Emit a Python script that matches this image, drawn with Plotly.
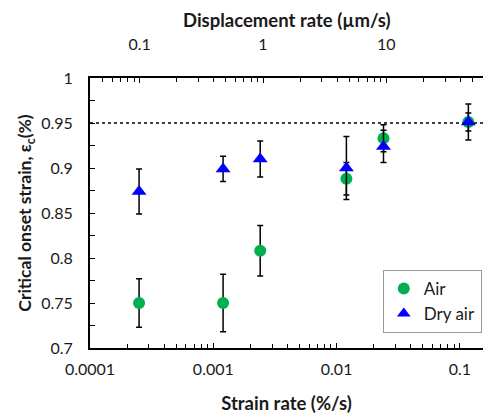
import numpy as np
import plotly.graph_objects as go

# Data
strain_rate = [2.5e-4, 1.2e-3, 2.4e-3, 0.012, 0.024, 0.117]
air = [0.750, 0.750, 0.808, 0.888, 0.933, 0.951]
air_err = [0.027, 0.032, 0.028, 0.018, 0.015, 0.020]
dry = [0.874, 0.899, 0.910, 0.900, 0.924, 0.951]
dry_err = [0.025, 0.014, 0.020, 0.035, 0.018, 0.010]

x_ticks = [1e-4, 1e-3, 1e-2, 1e-1]
x_ticktext = ["0.0001", "0.001", "0.01", "0.1"]
top_ticks = [0.1, 1, 10]
top_ticktext = ["0.1", "1", "10"]
y_ticks = [0.7, 0.75, 0.8, 0.85, 0.9, 0.95, 1.0]
y_ticktext = ["0.7", "0.75", "0.8", "0.85", "0.9", "0.95", "1"]
ref_line = 0.95

FONT = "Lato"
TXT = "#1a1a1a"

def minor_vals(lo, hi):
    out = []
    for d in range(lo, hi + 1):
        for k in range(2, 10):
            out.append(k * 10.0 ** d)
    return out

fig = go.Figure()
fig.add_trace(go.Scatter(
    x=strain_rate, y=air, mode="markers", name="Air",
    marker=dict(symbol="circle", size=12, color="#00B050"),
    error_y=dict(type="data", array=air_err, color="black", thickness=1.5, width=3),
))
fig.add_trace(go.Scatter(
    x=strain_rate, y=dry, mode="markers", name="Dry air",
    marker=dict(symbol="triangle-up", size=13, color="#0000FF"),
    error_y=dict(type="data", array=dry_err, color="black", thickness=1.5, width=3),
))
# invisible trace to activate top axis
fig.add_trace(go.Scatter(x=[1], y=[0.9], xaxis="x2", mode="markers",
                         marker=dict(opacity=0), showlegend=False, hoverinfo="skip"))

fig.add_shape(type="line", xref="paper", yref="y", x0=0, x1=1, y0=ref_line, y1=ref_line,
              line=dict(color="black", width=1.5, dash="dot"), layer="below")

fig.add_annotation(text="<b>Displacement rate (µm/s)</b>", xref="paper", yref="paper",
                   x=0.5, y=1.215, xanchor="center", yanchor="middle", showarrow=False,
                   font=dict(family=FONT, size=18.5, color=TXT))

axis_common = dict(showline=True, linecolor="black", linewidth=2, mirror=False,
                   showgrid=False, zeroline=False, ticks="inside", tickcolor="black",
                   tickwidth=1.2, ticklen=5,
                   tickfont=dict(family=FONT, size=16, color=TXT))

fig.update_layout(
    width=483, height=414,
    margin=dict(l=90, r=0, t=78, b=66),
    paper_bgcolor="white", plot_bgcolor="white",
    font=dict(family=FONT, color=TXT),
    xaxis=dict(type="log", range=[-4, -0.813], tickvals=x_ticks, ticktext=x_ticktext,
               ticklabelstandoff=6,
               minor=dict(tickvals=minor_vals(-4, -1), ticks="inside", ticklen=4,
                          tickcolor="black", tickwidth=1.2),
               title=dict(text="<b>Strain rate (%/s)</b>", font=dict(family=FONT, size=18.5, color=TXT),
                          standoff=20),
               **axis_common),
    xaxis2=dict(type="log", range=[-1.403, 1.784], overlaying="x", side="top",
                tickvals=top_ticks, ticktext=top_ticktext, ticklabelstandoff=20,
                minor=dict(tickvals=minor_vals(-2, 1), ticks="inside", ticklen=4,
                           tickcolor="black", tickwidth=1.2),
                **axis_common),
    yaxis=dict(range=[0.7, 1.0], tickvals=y_ticks, ticktext=y_ticktext,
               ticklabelstandoff=12,
               minor=dict(dtick=0.025, ticks="inside", ticklen=5, tickcolor="black", tickwidth=1.2),
               title=dict(text="<b>Critical onset strain, ε<sub>c</sub>(%)</b>",
                          font=dict(family=FONT, size=17.5, color=TXT), standoff=5),
               **axis_common),
    legend=dict(x=0.745, y=0.289, xanchor="left", yanchor="top",
                bordercolor="#999", borderwidth=1, bgcolor="white",
                font=dict(family=FONT, size=17, color=TXT),
                itemsizing="constant", tracegroupgap=0),
    showlegend=True,
)

fig.write_html("out.html")
